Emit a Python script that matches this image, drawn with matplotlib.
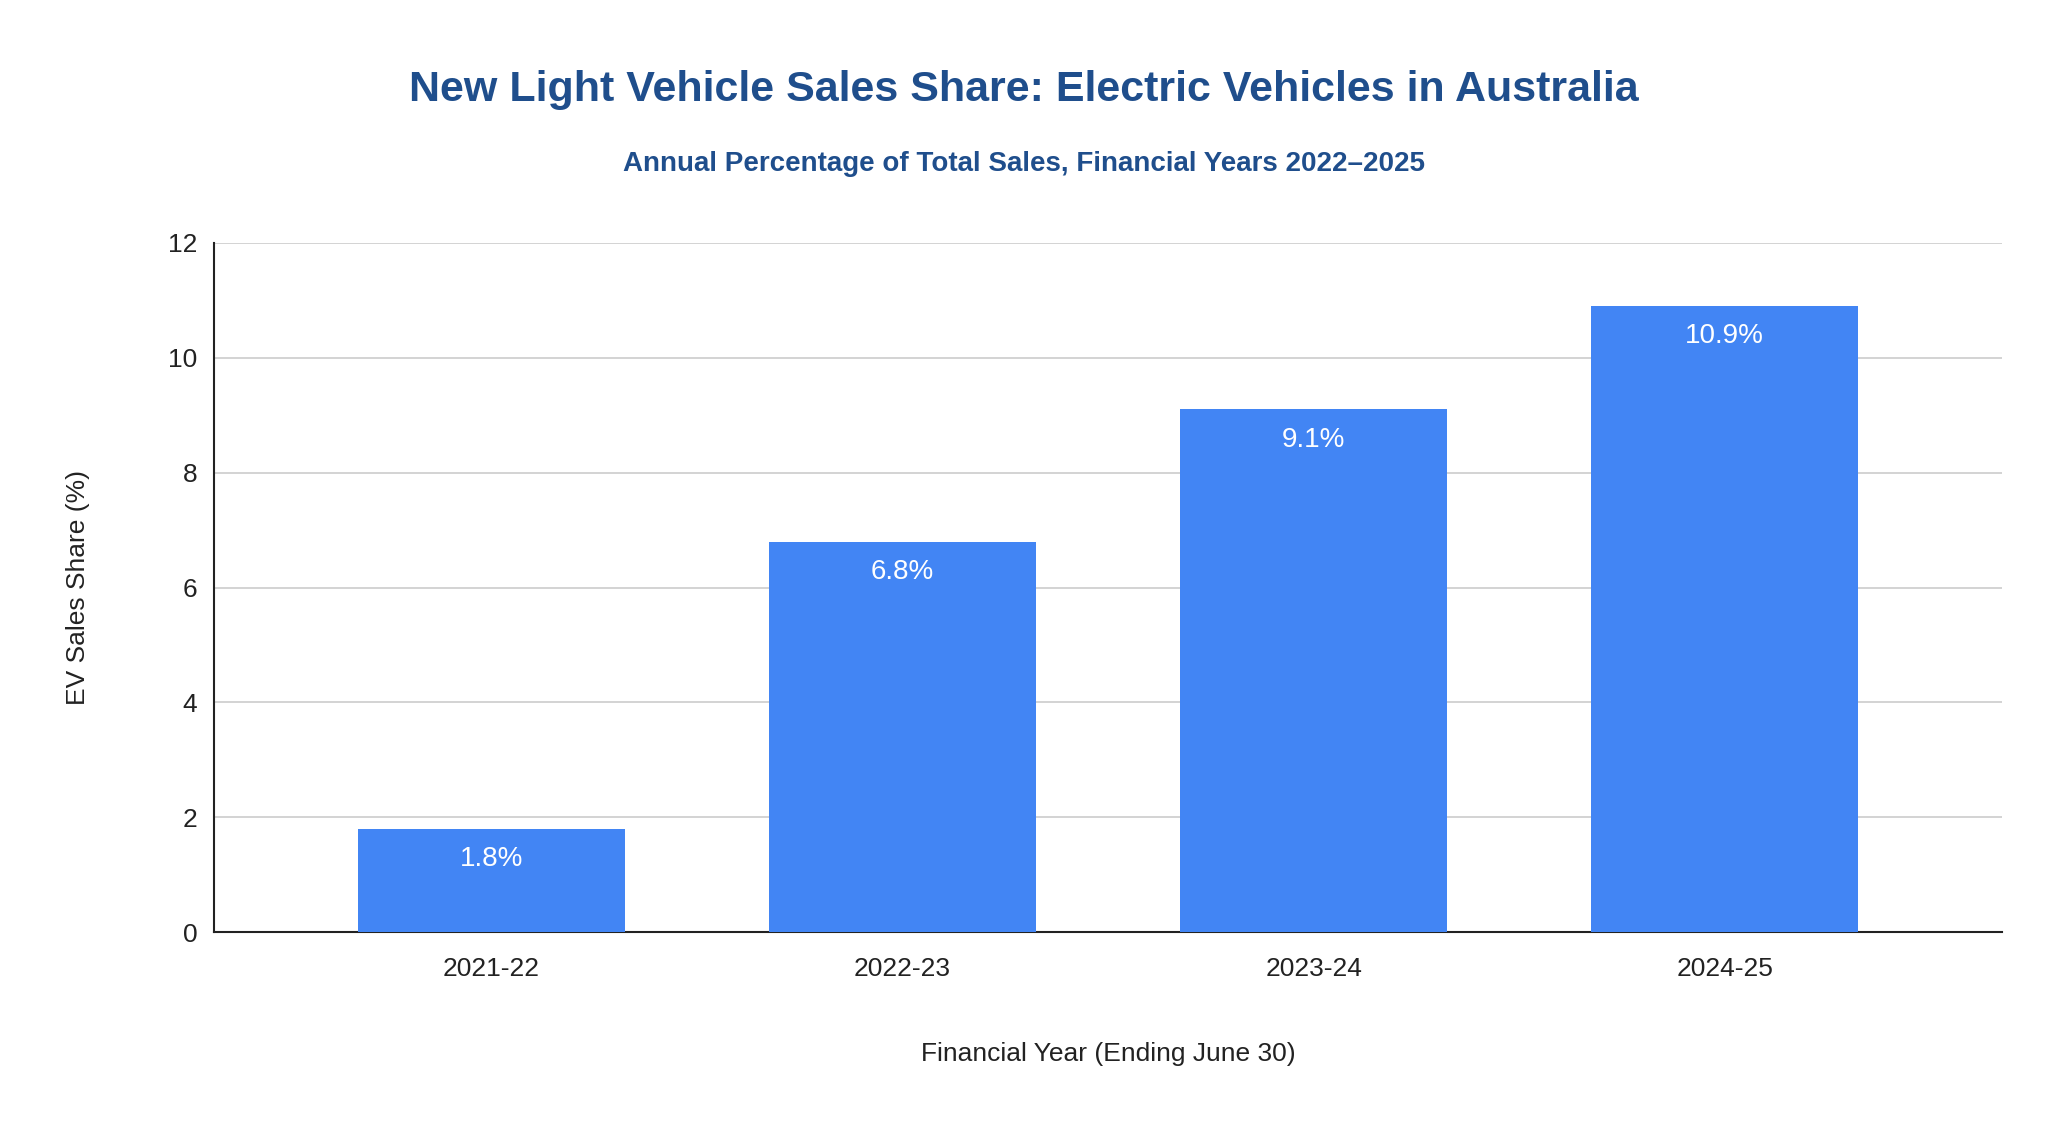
import matplotlib
matplotlib.use("Agg")
import matplotlib.pyplot as plt

categories = ["2021-22", "2022-23", "2023-24", "2024-25"]
values = [1.8, 6.8, 9.1, 10.9]
labels = ["1.8%", "6.8%", "9.1%", "10.9%"]
yticks = [0, 2, 4, 6, 8, 10, 12]

plt.rcParams['font.family'] = ['Liberation Sans', 'DejaVu Sans']
fig = plt.figure(figsize=(20.48, 11.24), dpi=100)
ax = fig.add_axes([0.1045, 0.1706, 0.8731, 0.6134])
x = list(range(len(categories)))
bars = ax.bar(x, values, width=0.65, color="#4285F4", zorder=3)
for xi, v, l in zip(x, values, labels):
    ax.text(xi, v - 0.3, l, ha="center", va="top", color="white", fontsize=20, zorder=4)
ax.set_xlim(-0.675, 3.675)
ax.set_ylim(0, 12)
ax.set_yticks(yticks)
ax.set_xticks(x)
ax.set_xticklabels(categories)
ax.tick_params(axis="both", labelsize=19, length=0, colors="#222222")
ax.tick_params(axis="x", pad=18)
ax.tick_params(axis="y", pad=12)
ax.grid(axis="y", color="#cccccc", linewidth=1.2, zorder=0)
for s in ["top", "right"]:
    ax.spines[s].set_visible(False)
for s in ["left", "bottom"]:
    ax.spines[s].set_color("#222222")
    ax.spines[s].set_linewidth(1.5)
fig.text(0.5, 0.92, "New Light Vehicle Sales Share: Electric Vehicles in Australia",
         ha="center", va="center", fontsize=31, fontweight="bold", color="#1F4E8C")
fig.text(0.5, 0.854, "Annual Percentage of Total Sales, Financial Years 2022\u20132025",
         ha="center", va="center", fontsize=20, fontweight="bold", color="#1F4E8C")
fig.text(0.541, 0.062, "Financial Year (Ending June 30)", ha="center", va="center",
         fontsize=19, color="#222222")
fig.text(0.038, 0.477, "EV Sales Share (%)", ha="center", va="center", rotation=90,
         fontsize=19, color="#222222")
fig.savefig("out.png", dpi=100)
